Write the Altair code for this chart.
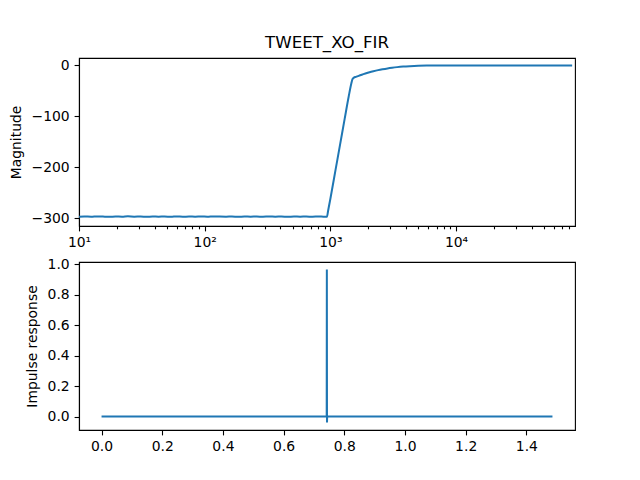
import altair as alt
import pandas as pd

# ---- data ----
freq = [10, 11, 12.5, 14, 15.5, 17.5, 19.5, 22, 24.5, 27.5, 31, 34.5, 38.5, 43, 48, 54, 60, 67, 75, 84,
        94, 105, 118, 132, 148, 165, 185, 207, 232, 260, 291, 326, 365, 409, 458, 513, 575, 644, 721, 808,
        880, 940, 960, 1000, 1100, 1200, 1300, 1400, 1470, 1500, 1540, 1600, 1680, 1780, 1900, 2050,
        2200, 2400, 2600, 2850, 3100, 3400, 3800, 4300, 5000, 6000, 7500, 10000, 15000, 30000, 60000, 84000]
mag = [-296.7, -296.3, -296.9, -296.2, -296.6, -297.0, -296.4, -296.8, -296.1, -296.7,
       -296.5, -297.0, -296.3, -296.8, -296.4, -296.9, -296.2, -296.8, -296.5, -296.7,
       -296.3, -296.9, -296.2, -296.6, -296.8, -296.4, -297.0, -296.3, -296.7, -296.5,
       -296.8, -296.2, -296.7, -296.5, -296.9, -296.4, -296.7, -296.5, -296.8, -296.3,
       -296.7, -296.8, -285, -262, -205, -153, -105, -61, -35, -27, -24, -22.5, -20.5, -18.3, -16, -13.5,
       -11.5, -9.3, -7.6, -5.9, -4.6, -3.4, -2.3, -1.5, -0.8, -0.4, -0.15, -0.05, 0, 0, 0, 0]

t = [0.0, 0.7420, 0.7425, 0.7430, 0.7435, 1.486]
imp = [0.0, 0.0, 0.965, -0.038, 0.0, 0.0]

major_x = [10, 100, 1000, 10000]
minor_x = [20, 30, 40, 50, 60, 70, 80, 90, 200, 300, 400, 500, 600, 700, 800, 900,
           2000, 3000, 4000, 5000, 6000, 7000, 8000, 9000, 20000, 30000, 40000, 50000, 60000, 70000, 80000]
mag_ticks = [-300, -200, -100, 0]
t_ticks = [0.0, 0.2, 0.4, 0.6, 0.8, 1.0, 1.2, 1.4]
imp_ticks = [0.0, 0.2, 0.4, 0.6, 0.8, 1.0]

df_mag = pd.DataFrame({"f": freq, "m": mag, "i": range(len(freq))})
df_imp = pd.DataFrame({"t": t, "v": imp, "i": range(len(t))})

FONT = "DejaVu Sans"
BLUE = "#1f77b4"
W, H = 496, 168

axis_common = dict(
    labelFont=FONT, labelFontSize=13.9, labelColor="black",
    titleFont=FONT, titleFontSize=13.9, titleFontWeight="normal", titleColor="black",
    domainColor="black", domainWidth=1.1, tickColor="black", tickWidth=1.1,
    labelPadding=4.9, grid=False, labelFlush=False, labelOverlap=False,
)

top = alt.Chart(df_mag).mark_line(color=BLUE, strokeWidth=2.0, clip=True, interpolate="monotone").encode(
    x=alt.X("f:Q", scale=alt.Scale(type="log", domain=[10, 88500], nice=False),
            axis=alt.Axis(title=None, values=major_x + minor_x,
                          tickSize={"condition": {"test": "indexof([10,100,1000,10000], datum.value) >= 0", "value": 4.9}, "value": 2.8},
                          labelExpr="datum.value == 10 ? '10¹' : datum.value == 100 ? '10²' : datum.value == 1000 ? '10³' : datum.value == 10000 ? '10⁴' : ''",
                          **axis_common)),
    y=alt.Y("m:Q", scale=alt.Scale(domain=[-315, 14.5], nice=False, zero=False),
            axis=alt.Axis(title="Magnitude", values=mag_ticks, format="d", tickSize=4.9,
                          titlePadding=8, **axis_common)),
    order="i:Q",
).properties(
    width=W, height=H,
    title=alt.Title("TWEET_XO_FIR", font=FONT, fontSize=16.67, fontWeight="normal",
                    color="black", anchor="middle", baseline="alphabetic", offset=-7),
)

bottom = alt.Chart(df_imp).mark_line(color=BLUE, strokeWidth=2.0, clip=True).encode(
    x=alt.X("t:Q", scale=alt.Scale(domain=[-0.0743, 1.5603], nice=False, zero=False),
            axis=alt.Axis(title=None, values=t_ticks, format=".1f", tickSize=4.9, **axis_common)),
    y=alt.Y("v:Q", scale=alt.Scale(domain=[-0.088, 1.015], nice=False, zero=False),
            axis=alt.Axis(title="Impulse response", values=imp_ticks, format=".1f", tickSize=4.9,
                          titlePadding=8, **axis_common)),
    order="i:Q",
).properties(width=W, height=H)

chart = alt.vconcat(top, bottom, spacing=5).properties(
    padding={"left": 0, "top": 26, "right": 5, "bottom": 5},
    background="white",
).configure_view(stroke="black", strokeWidth=1.1)

chart.save("out.html", embed_options={"renderer": "svg", "actions": False})
